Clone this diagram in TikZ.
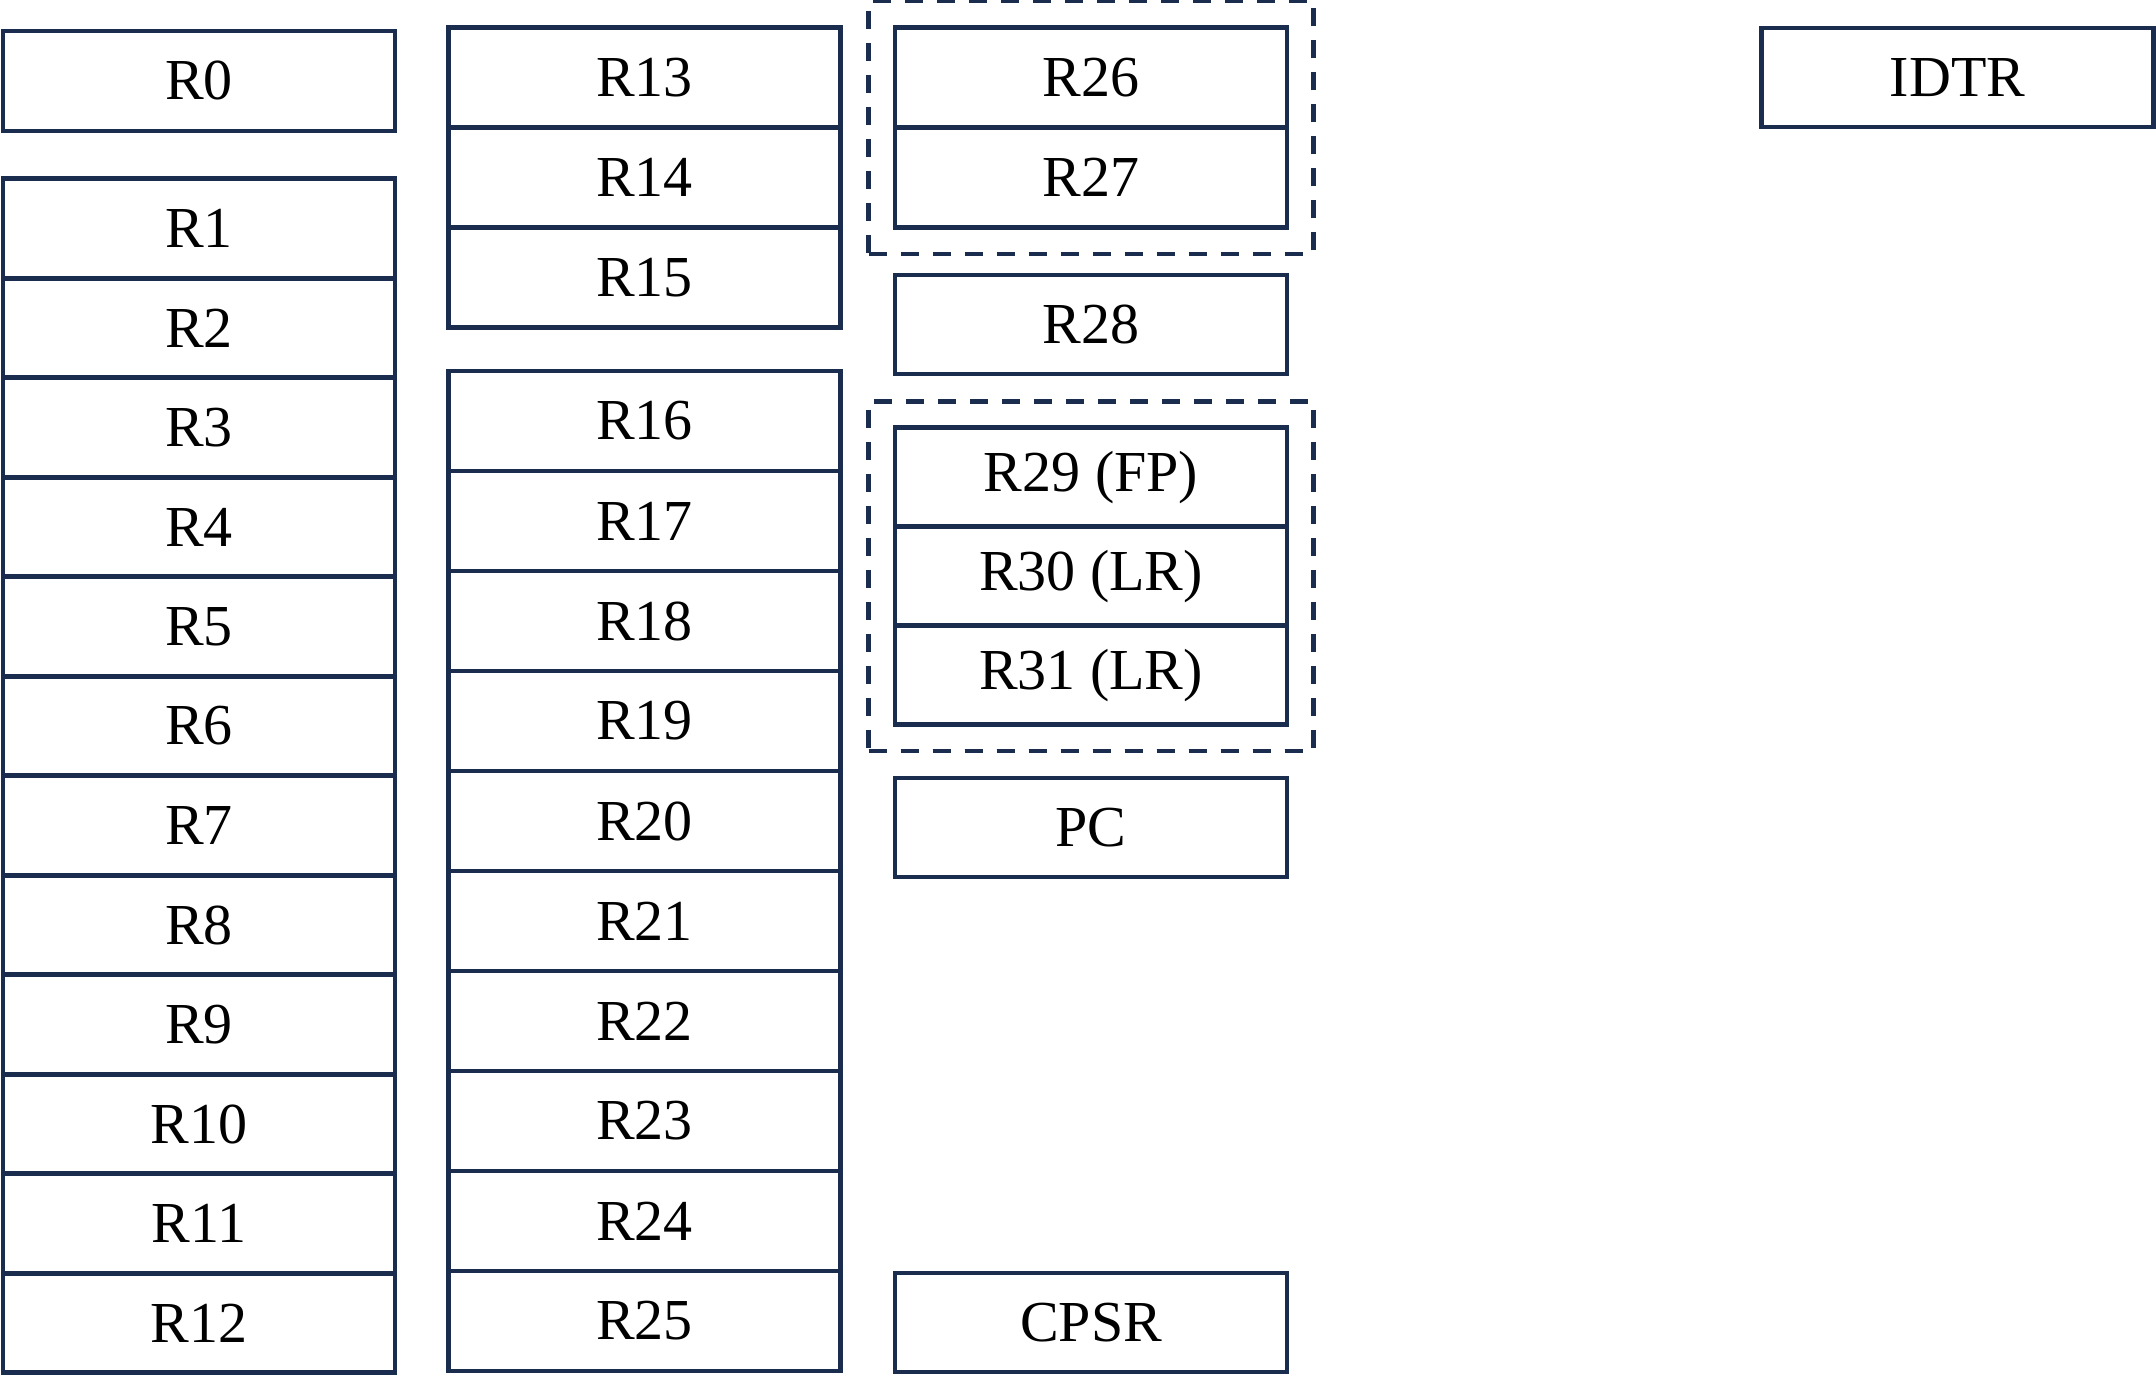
\documentclass[tikz,border=0pt]{standalone}
\usepackage{fontspec}
\setmainfont{Liberation Serif}
\usepackage{tikz}
\usetikzlibrary{fit}

\definecolor{regblue}{RGB}{27,45,79}

\begin{document}
\begin{tikzpicture}[
		reg/.style={draw=regblue, line width=0.046cm, fill=white, minimum width=3.92cm, minimum height=1cm, inner sep=0pt, font=\fontsize{16.5}{20}\selectfont},
		regroup/.style={draw=regblue, line width=0.046cm, dash pattern=on 0.18cm off 0.14cm, inner sep=0.24cm}
	]
		    \useasboundingbox (0,0) rectangle (21.56,13.9);
		    \begin{scope}
					% prima colonna
					\node[reg] (r0) at (1.99,13.09) {R0};
					\node[reg, minimum height=0.995cm] (r1) at (1.99,11.615) {R1};
					\node[reg, minimum height=0.995cm] (r2) at (1.99,10.62) {R2};
					\node[reg, minimum height=0.995cm] (r3) at (1.99,9.625) {R3};
					\node[reg, minimum height=0.995cm] (r4) at (1.99,8.63) {R4};
					\node[reg, minimum height=0.995cm] (r5) at (1.99,7.635) {R5};
					\node[reg, minimum height=0.995cm] (r6) at (1.99,6.64) {R6};
					\node[reg, minimum height=0.995cm] (r7) at (1.99,5.645) {R7};
					\node[reg, minimum height=0.995cm] (r8) at (1.99,4.65) {R8};
					\node[reg, minimum height=0.995cm] (r9) at (1.99,3.655) {R9};
					\node[reg, minimum height=0.995cm] (r10) at (1.99,2.66) {R10};
					\node[reg, minimum height=0.995cm] (r11) at (1.99,1.665) {R11};
					\node[reg, minimum height=0.995cm] (r12) at (1.99,0.67) {R12};

					% seconda colonna
					\node[reg] (r13) at (6.445,13.125) {R13};
					\node[reg] (r14) at (6.445,12.125) {R14};
					\node[reg] (r15) at (6.445,11.125) {R15};
					\node[reg] (r16) at (6.445,9.69) {R16};
					\node[reg] (r17) at (6.445,8.69) {R17};
					\node[reg] (r18) at (6.445,7.69) {R18};
					\node[reg] (r19) at (6.445,6.69) {R19};
					\node[reg] (r20) at (6.445,5.69) {R20};
					\node[reg] (r21) at (6.445,4.69) {R21};
					\node[reg] (r22) at (6.445,3.69) {R22};
					\node[reg] (r23) at (6.445,2.69) {R23};
					\node[reg] (r24) at (6.445,1.69) {R24};
					\node[reg] (r25) at (6.445,0.69) {R25};

					% terza colonna
					\node[reg] (r26) at (10.91,13.125) {R26};
					\node[reg] (r27) at (10.91,12.125) {R27};
					\node[reg, minimum height=0.99cm] (r28) at (10.91,10.655) {R28};
					\node[reg, minimum height=0.99cm] (r29) at (10.91,9.129) {R29 (FP)};
					\node[reg, minimum height=0.99cm] (r30) at (10.91,8.139) {R30 (LR)};
					\node[reg, minimum height=0.99cm] (r31) at (10.91,7.149) {R31 (LR)};
					\node[reg, minimum height=0.99cm] (pc) at (10.91,5.625) {PC};
					\node[reg, minimum height=0.99cm] (cpsr) at (10.91,0.675) {CPSR};

					\node[regroup, fit=(r26)(r27)] (g1) {}; % R26-R27
					\node[regroup, fit=(r29)(r31)] (g2) {}; % R29-R31

					\node[reg, minimum height=0.99cm] (idtr) at (19.575,13.125) {IDTR};
		    \end{scope}
		  \end{tikzpicture}
\end{document}
